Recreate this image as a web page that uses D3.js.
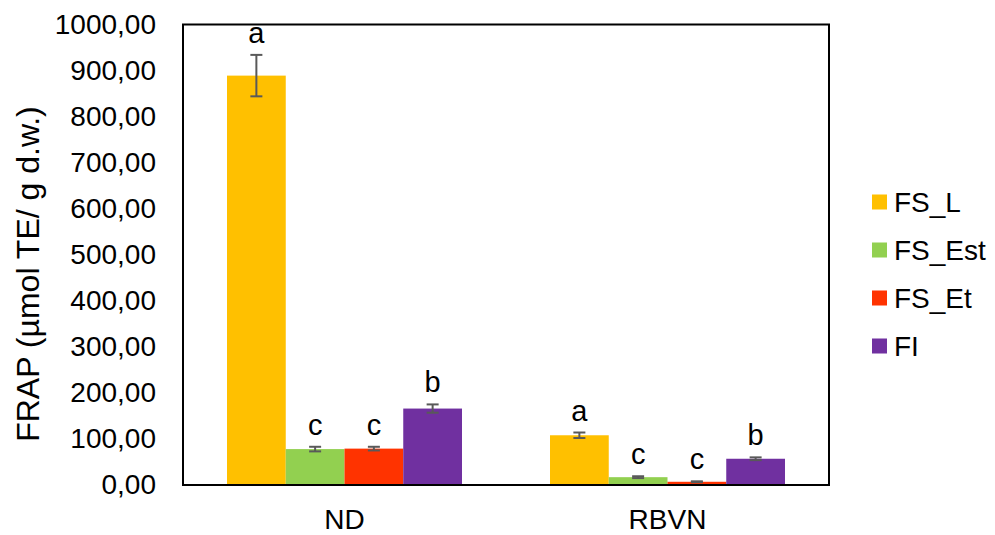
<!DOCTYPE html>
<html>
<head>
<meta charset="utf-8">
<script src="https://cdn.jsdelivr.net/npm/d3@7"></script>
<style>
  html, body { margin: 0; padding: 0; background: #fff; }
  svg { display: block; font-family: Arial, "Liberation Sans", sans-serif; }
</style>
</head>
<body>
<svg id="chart" width="995" height="535"></svg>
<script>
// Sample groups and extraction fractions
const categories = ["ND", "RBVN"];
const seriesNames = ["FS_L", "FS_Est", "FS_Et", "FI"];
const seriesColors = ["#FFC000", "#92D050", "#FF3300", "#7030A0"];

// FRAP means (µmol TE/ g d.w.), one array per fraction, ordered as categories
const fsL   = [889, 108];
const fsEst = [78, 17];
const fsEt  = [79, 7];
const fi    = [166, 57];

// Standard deviations
const fsLErr   = [45, 6];
const fsEstErr = [5, 2];
const fsEtErr  = [4, 1];
const fiErr    = [9, 3];

// Significance letters
const fsLSig   = ["a", "a"];
const fsEstSig = ["c", "c"];
const fsEtSig  = ["c", "c"];
const fiSig    = ["b", "b"];

const yTicks = [0, 100, 200, 300, 400, 500, 600, 700, 800, 900, 1000];
const yTitle = "FRAP (µmol TE/ g d.w.)";

const values = [fsL, fsEst, fsEt, fi];
const errors = [fsLErr, fsEstErr, fsEtErr, fiErr];
const sigs = [fsLSig, fsEstSig, fsEtSig, fiSig];

const rows = [];
categories.forEach((c, ci) => {
  seriesNames.forEach((s, si) => {
    rows.push({ cat: c, series: s, si, value: values[si][ci], err: errors[si][ci], sig: sigs[si][ci] });
  });
});

const svg = d3.select("#chart");
const plot = { left: 183, right: 829, top: 24.5, bottom: 485 };

const x0 = d3.scaleBand().domain(categories).range([plot.left, plot.right]).paddingInner(0).paddingOuter(0);
const bandInner = x0.bandwidth() * 235 / 323;
const x1 = d3.scaleBand().domain(seriesNames)
  .range([(x0.bandwidth() - bandInner) / 2, (x0.bandwidth() + bandInner) / 2]).padding(0);
const y = d3.scaleLinear().domain([0, 1000]).range([plot.bottom, plot.top]);
const color = d3.scaleOrdinal().domain(seriesNames).range(seriesColors);

const fmt = v => d3.format(".2f")(v).replace(".", ",");

// Y axis labels (no tick marks)
const yAxis = d3.axisLeft(y).tickValues(yTicks).tickFormat(fmt).tickSize(0).tickPadding(27);
const yg = svg.append("g").attr("transform", `translate(${plot.left},0)`).call(yAxis);
yg.select(".domain").remove();
yg.selectAll("text").attr("font-size", 28).attr("fill", "#000")
  .attr("font-family", "Arial, 'Liberation Sans', sans-serif");

// Bars
const groups = svg.append("g").selectAll("g").data(rows).join("g")
  .attr("transform", d => `translate(${x0(d.cat)},0)`);

groups.append("rect")
  .attr("x", d => x1(d.series))
  .attr("width", x1.bandwidth())
  .attr("y", d => y(d.value))
  .attr("height", d => y(0) - y(d.value))
  .attr("fill", d => color(d.series));

// Error bars
const capW = 12;
const eb = groups.append("g").attr("stroke", "#595959").attr("stroke-width", 2);
eb.append("line")
  .attr("x1", d => x1(d.series) + x1.bandwidth() / 2)
  .attr("x2", d => x1(d.series) + x1.bandwidth() / 2)
  .attr("y1", d => y(d.value + d.err))
  .attr("y2", d => y(d.value - d.err));
eb.append("line")
  .attr("x1", d => x1(d.series) + x1.bandwidth() / 2 - capW / 2)
  .attr("x2", d => x1(d.series) + x1.bandwidth() / 2 + capW / 2)
  .attr("y1", d => y(d.value + d.err))
  .attr("y2", d => y(d.value + d.err));
eb.append("line")
  .attr("x1", d => x1(d.series) + x1.bandwidth() / 2 - capW / 2)
  .attr("x2", d => x1(d.series) + x1.bandwidth() / 2 + capW / 2)
  .attr("y1", d => y(d.value - d.err))
  .attr("y2", d => y(d.value - d.err));

// Significance letters
groups.append("text")
  .attr("x", d => x1(d.series) + x1.bandwidth() / 2)
  .attr("y", d => y(d.value + d.err) - 12)
  .attr("text-anchor", "middle")
  .attr("font-size", 29)
  .attr("fill", "#000")
  .text(d => d.sig);

// Plot frame
svg.append("rect")
  .attr("x", plot.left).attr("y", plot.top)
  .attr("width", plot.right - plot.left).attr("height", plot.bottom - plot.top)
  .attr("fill", "none").attr("stroke", "#000").attr("stroke-width", 2);

// Category labels
const xAxis = d3.axisBottom(x0).tickSize(0).tickPadding(24);
const xg = svg.append("g").attr("transform", `translate(0,${plot.bottom})`).call(xAxis);
xg.select(".domain").remove();
xg.selectAll("text").attr("font-size", 28).attr("fill", "#000")
  .attr("font-family", "Arial, 'Liberation Sans', sans-serif");

// Y axis title
svg.append("text")
  .attr("transform", "translate(39,274) rotate(-90)")
  .attr("text-anchor", "middle")
  .attr("font-size", 32)
  .attr("fill", "#000")
  .text(yTitle);

// Legend
const legend = svg.append("g").attr("transform", "translate(872,202)");
const li = legend.selectAll("g").data(seriesNames).join("g")
  .attr("transform", (d, i) => `translate(0,${i * 48})`);
li.append("rect").attr("x", 0).attr("y", -7.5).attr("width", 15).attr("height", 15)
  .attr("fill", d => color(d));
li.append("text").attr("x", 22).attr("y", 0).attr("dy", "0.35em")
  .attr("font-size", 28).attr("fill", "#000").text(d => d);
</script>
</body>
</html>
